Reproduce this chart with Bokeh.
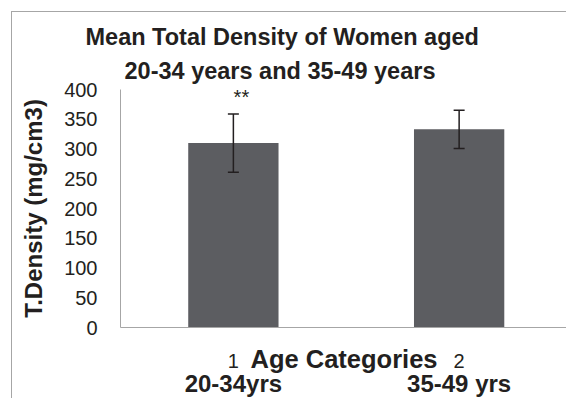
from bokeh.plotting import figure
from bokeh.layouts import column
from bokeh.models import Range1d, FixedTicker, LinearAxis, Title, Whisker, ColumnDataSource
from bokeh.embed import file_html
from bokeh.resources import INLINE
from bokeh.core.properties import value

# ---- data ----
category_ids = [1, 2]
category_names = ["20-34yrs", "35-49 yrs"]
mean_density = [310, 333]
err_density = [49, 32]
significance = ["**", ""]
y_ticks = [0, 50, 100, 150, 200, 250, 300, 350, 400]
title_lines = ["Mean Total Density of Women aged", "20-34 years and 35-49 years"]

FONT = "Liberation Sans"
TXT = "#231f20"
AX = "#a6a6a6"
BAR = "#5c5d61"

src = ColumnDataSource(dict(
    x=category_ids,
    top=mean_density,
    upper=[m + e for m, e in zip(mean_density, err_density)],
    lower=[m - e for m, e in zip(mean_density, err_density)],
    sig=significance,
))

p = figure(width=555, height=387, output_backend="svg", toolbar_location=None,
           title=None, x_range=Range1d(0.5, 2.48), y_range=Range1d(0, 400),
           min_border_left=108, min_border_right=0, min_border_top=77,
           min_border_bottom=0)
p.styles = {"border-left": "1px solid #a6a6a6", "border-top": "1px solid #a6a6a6"}
p.outline_line_color = None
p.xgrid.visible = False
p.ygrid.visible = False
p.background_fill_color = "white"
p.border_fill_color = "white"

p.vbar(x="x", top="top", width=0.4, source=src, fill_color=BAR, line_color=None)
w = Whisker(base="x", upper="upper", lower="lower", source=src,
            line_color=TXT, line_width=1.5, level="overlay")
w.upper_head.size = 11
w.lower_head.size = 11
w.upper_head.line_color = TXT
w.lower_head.line_color = TXT
w.upper_head.line_width = 1.5
w.lower_head.line_width = 1.5
p.add_layout(w)

p.text(x="x", y="upper", text="sig", source=src, text_font=value(FONT),
       text_font_size="20px", text_color=TXT, text_align="center",
       text_baseline="alphabetic", x_offset=8, y_offset=-17, level="overlay")

# y axis
ya = p.yaxis[0]
ya.ticker = FixedTicker(ticks=y_ticks)
ya.axis_label = "T.Density (mg/cm3)"
ya.axis_label_text_font = FONT
ya.axis_label_text_font_size = "24px"
ya.axis_label_text_font_style = "bold"
ya.axis_label_text_color = TXT
ya.axis_label_standoff = 14
ya.major_label_text_font = FONT
ya.major_label_text_font_size = "20px"
ya.major_label_text_color = TXT
ya.major_label_standoff = 17
ya.major_tick_line_color = None
ya.minor_tick_line_color = None
ya.axis_line_color = AX

# x axis (tick numbers + axis title)
xa = p.xaxis[0]
xa.ticker = FixedTicker(ticks=category_ids)
xa.major_label_overrides = {c: str(c) for c in category_ids}
xa.axis_label = "Age Categories"
xa.axis_label_text_font = FONT
xa.axis_label_text_font_size = "25.5px"
xa.axis_label_text_font_style = "bold"
xa.axis_label_text_color = TXT
xa.axis_label_standoff = -26
xa.major_label_text_font = FONT
xa.major_label_text_font_size = "20px"
xa.major_label_text_color = TXT
xa.major_label_standoff = 20
xa.major_tick_line_color = None
xa.minor_tick_line_color = None
xa.axis_line_color = AX

# second x axis: category names
xa2 = LinearAxis(ticker=FixedTicker(ticks=category_ids),
                 major_label_overrides=dict(zip(category_ids, category_names)))
xa2.axis_line_color = None
xa2.major_tick_line_color = None
xa2.minor_tick_line_color = None
xa2.major_label_text_font = FONT
xa2.major_label_text_font_size = "24px"
xa2.major_label_text_font_style = "bold"
xa2.major_label_text_color = TXT
xa2.major_label_standoff = -12
p.add_layout(xa2, "below")

# titles (second line added first so it sits nearer the plot)
for line, off, so in [(title_lines[1], 4, 12), (title_lines[0], -35, 0)]:
    t = Title(text=line, align="left", offset=off, text_font=FONT,
              text_font_size="23.5px", text_font_style="bold", text_color=TXT,
              standoff=so)
    p.add_layout(t, "above")

layout = column(p, styles={"padding-left": "11px", "padding-top": "11px"})

open("out.html", "w").write(file_html(layout, INLINE))
